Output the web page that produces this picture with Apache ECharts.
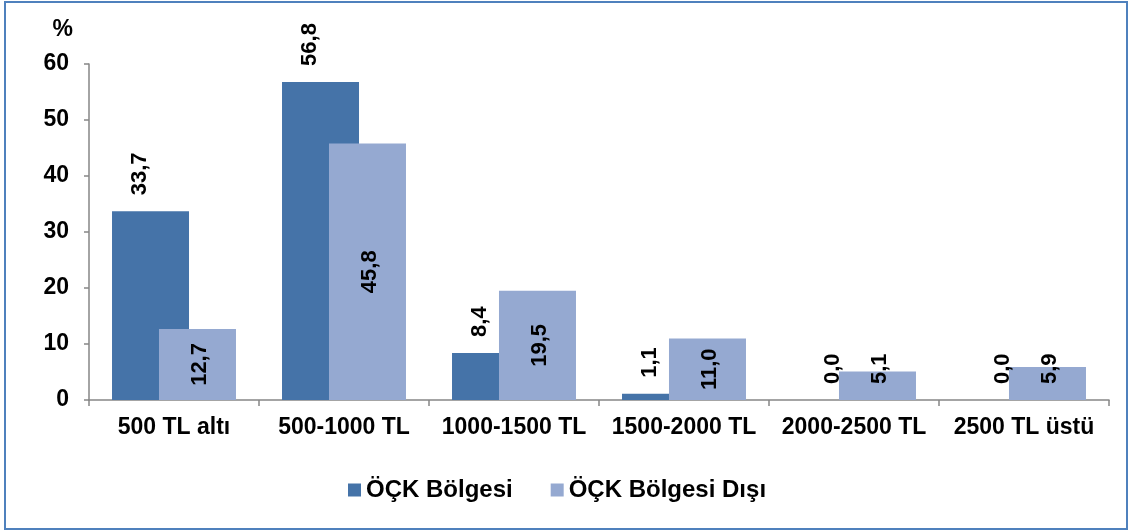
<!DOCTYPE html>
<html>
<head>
<meta charset="utf-8">
<script src="https://cdn.jsdelivr.net/npm/echarts@6/dist/echarts.min.js"></script>
<style>
html, body { margin: 0; padding: 0; background: #fff; }
#main { width: 1132px; height: 532px; }
</style>
</head>
<body>
<div id="main"></div>
<script>
// kategoriler ve seriler
var categories = ['500 TL altı', '500-1000 TL', '1000-1500 TL', '1500-2000 TL', '2000-2500 TL', '2500 TL üstü'];
var seriesNames = ['ÖÇK Bölgesi', 'ÖÇK Bölgesi Dışı'];
var ockIci = [33.7, 56.8, 8.4, 1.1, 0.0, 0.0];
var ockDisi = [12.7, 45.8, 19.5, 11.0, 5.1, 5.9];
var yTicks = [0, 10, 20, 30, 40, 50, 60];

var fontFam = '"Liberation Sans", Arial, sans-serif';

function fmt(p) {
	return p.value.toFixed(1).replace('.', ',');
}

var labelBase = {
	show: true,
	rotate: 90,
	formatter: fmt,
	fontFamily: fontFam,
	fontWeight: 'bold',
	fontSize: 22,
	color: '#000'
};

// koyu seri: etiket barın üstünde
var darkData = ockIci.map(function (v) {
	return {
		value: v,
		label: {
			position: 'top',
			distance: 16,
			align: 'left',
			verticalAlign: 'middle',
			offset: v > 0 ? [0, -11] : [0, 2]
		}
	};
});

// açık seri: etiket bar ortasında, kısa barlarda alttan
var lightData = ockDisi.map(function (v) {
	if (v < 8) {
		return {
			value: v,
			label: { position: 'insideBottom', distance: 16, align: 'left', verticalAlign: 'middle', offset: [0, 2] }
		};
	}
	return {
		value: v,
		label: { position: 'inside', align: 'center', verticalAlign: 'middle', offset: [0, 2] }
	};
});

var myChart = echarts.init(document.getElementById('main'));
var option = {
	animation: false,
	backgroundColor: '#fff',
	grid: { left: 89, right: 23, top: 64, bottom: 132 },
	legend: {
		data: seriesNames,
		bottom: 25,
		left: 343,
		itemWidth: 13,
		itemHeight: 13,
		itemGap: 38,
		icon: 'rect',
		textStyle: { fontFamily: fontFam, fontWeight: 'bold', fontSize: 24, color: '#000' }
	},
	graphic: [{
		type: 'rect',
		shape: { x: 5, y: 2, width: 1122, height: 527 },
		style: { fill: 'none', stroke: '#4F81BD', lineWidth: 2 },
		silent: true
	}],
	xAxis: {
		type: 'category',
		data: categories,
		axisLine: { lineStyle: { color: '#868686', width: 1.5 } },
		axisTick: { show: true, length: 6, lineStyle: { color: '#868686', width: 1.5 } },
		axisLabel: {
			interval: 0,
			margin: 16,
			fontFamily: fontFam,
			fontWeight: 'bold',
			fontSize: 23,
			color: '#000'
		}
	},
	yAxis: {
		type: 'value',
		min: yTicks[0],
		max: yTicks[yTicks.length - 1],
		interval: 10,
		name: '%',
		nameLocation: 'end',
		nameGap: 34,
		nameTextStyle: {
			fontFamily: fontFam,
			fontWeight: 'bold',
			fontSize: 23,
			color: '#000',
			align: 'right',
			verticalAlign: 'middle',
			padding: [0, 16, 0, 0]
		},
		axisLine: { show: true, lineStyle: { color: '#868686', width: 1.5 } },
		axisTick: { show: true, length: 5, lineStyle: { color: '#868686', width: 1.5 } },
		splitLine: { show: false },
		axisLabel: {
			margin: 20,
			fontFamily: fontFam,
			fontWeight: 'bold',
			fontSize: 23,
			color: '#000'
		}
	},
	series: [{
		name: seriesNames[0],
		type: 'bar',
		barWidth: 77,
		barGap: '-39%',
		itemStyle: { color: '#4573A8' },
		label: labelBase,
		data: darkData
	}, {
		name: seriesNames[1],
		type: 'bar',
		barWidth: 77,
		barGap: '-39%',
		itemStyle: { color: '#95A9D1' },
		label: labelBase,
		data: lightData
	}]
};
myChart.setOption(option);
</script>
</body>
</html>
